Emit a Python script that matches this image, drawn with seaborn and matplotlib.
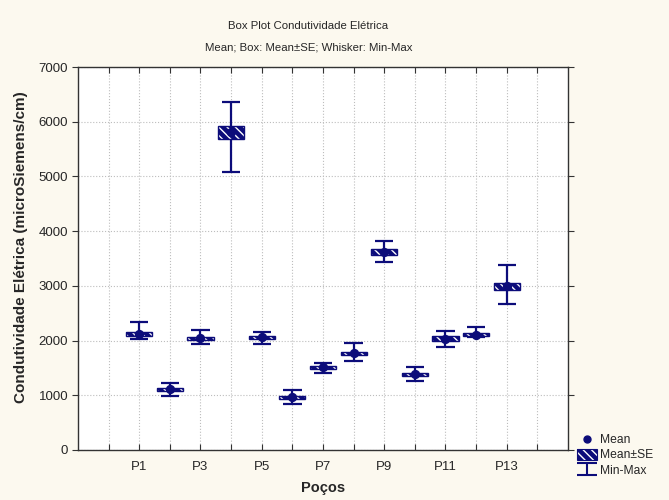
import numpy as np
import pandas as pd
import matplotlib
matplotlib.use("Agg")
import matplotlib.pyplot as plt
from matplotlib.patches import Rectangle
from matplotlib.lines import Line2D
from matplotlib.path import Path
from matplotlib.legend_handler import HandlerPatch
import seaborn as sns

# ---- data ----
wells = ["P1", "P2", "P3", "P4", "P5", "P6", "P7", "P8", "P9", "P10", "P11", "P12", "P13"]
means = [2120, 1110, 2040, 5810, 2060, 965, 1510, 1765, 3620, 1380, 2030, 2110, 2990]
se = [35, 30, 30, 120, 30, 30, 30, 30, 55, 30, 45, 35, 70]
mins = [2030, 990, 1930, 5090, 1930, 835, 1410, 1620, 3430, 1255, 1880, 2060, 2670]
maxs = [2340, 1230, 2200, 6360, 2150, 1100, 1590, 1960, 3820, 1515, 2180, 2250, 3380]

title = "Box Plot Condutividade Elétrica"
subtitle = "Mean; Box: Mean±SE; Whisker: Min-Max"
ylabel = "Condutividade Elétrica (microSiemens/cm)"
xlabel = "Poços"
yticks = [0, 1000, 2000, 3000, 4000, 5000, 6000, 7000]

NAVY = "#0c0c7a"
BG = "#fcf9ef"

sns.set_style("white")
plt.rcParams["font.family"] = ["Liberation Sans", "DejaVu Sans"]
plt.rcParams["hatch.linewidth"] = 1.0
HATCH = "\\\\\\\\"

df = pd.DataFrame({"well": wells, "mean": means, "se": se, "min": mins, "max": maxs})
df["pos"] = np.arange(len(df)) + 2  # category slots (axis shows empty slot before P1)

fig = plt.figure(figsize=(6.69, 5.0), dpi=100, facecolor=BG)
ax = fig.add_axes([0.1166, 0.1, 0.7324, 0.766])
ax.set_facecolor("white")

# whiskers (min-max)
box_w = 0.85
cap_w = 0.6
ax.vlines(df["pos"], df["min"], df["max"], color=NAVY, lw=1.6, zorder=3)
ax.hlines(df["min"], df["pos"] - cap_w / 2, df["pos"] + cap_w / 2, color=NAVY, lw=1.6, zorder=3)
ax.hlines(df["max"], df["pos"] - cap_w / 2, df["pos"] + cap_w / 2, color=NAVY, lw=1.6, zorder=3)

# boxes (mean +- SE) hatched
for p, m, s in zip(df["pos"], df["mean"], df["se"]):
    ax.add_patch(Rectangle((p - box_w / 2, m - s), box_w, 2 * s, facecolor=NAVY,
                           edgecolor="none", zorder=4))
    ax.add_patch(Rectangle((p - box_w / 2, m - s), box_w, 2 * s, facecolor="none",
                           edgecolor="white", hatch=HATCH, lw=0, zorder=5))
    ax.add_patch(Rectangle((p - box_w / 2, m - s), box_w, 2 * s, facecolor="none",
                           edgecolor=NAVY, lw=1.0, zorder=6))

# means
sns.scatterplot(data=df, x="pos", y="mean", ax=ax, color=NAVY, s=45,
                edgecolor=NAVY, linewidth=0, zorder=7, legend=False)

ax.set_xlim(0, 16)
ax.set_ylim(0, 7000)
ax.set_xticks(np.arange(1, 16))
labels = [""] + [w if i % 2 == 0 else "" for i, w in enumerate(wells)] + [""]
ax.set_xticklabels(labels, fontsize=9.5)
ax.set_yticks(yticks)
ax.set_yticklabels([str(v) for v in yticks], fontsize=9.5)
ax.grid(True, color="#bdbdbd", linestyle=":", linewidth=0.8)
ax.set_axisbelow(True)
for sp in ax.spines.values():
    sp.set_visible(True)
    sp.set_color("#333333")
    sp.set_linewidth(1.0)
ax.tick_params(axis="x", which="both", direction="in", top=True, bottom=True, length=4,
               color="#333333", pad=8)
ax.tick_params(axis="y", which="both", direction="out", left=True, length=4,
               color="#333333", pad=3)
ax.tick_params(axis="y", right=True)

ax.set_xlabel(xlabel, fontsize=10.5, fontweight="bold", labelpad=6)
ax.set_ylabel(ylabel, fontsize=11, fontweight="bold")
ax.yaxis.set_label_coords(-0.102, 0.529)

fig.text(0.461, 0.948, title, ha="center", va="center", fontsize=8.2)
fig.text(0.461, 0.904, subtitle, ha="center", va="center", fontsize=8.2)

# legend
ibeam = Path([(-1, 0.6), (1, 0.6), (0, 0.6), (0, -0.6), (-1, -0.6), (1, -0.6)],
             [Path.MOVETO, Path.LINETO, Path.MOVETO, Path.LINETO, Path.MOVETO, Path.LINETO])


class HatchHandler(HandlerPatch):
    def create_artists(self, legend, orig_handle, xdescent, ydescent, width, height,
                       fontsize, trans):
        w = width
        h = height * 1.25
        x0 = -xdescent
        y0 = -ydescent - (h - height) / 2
        r1 = Rectangle((x0, y0), w, h, facecolor=NAVY, edgecolor="none", transform=trans)
        r2 = Rectangle((x0, y0), w, h, facecolor="none", edgecolor="white",
                       hatch=HATCH, lw=0, transform=trans)
        r3 = Rectangle((x0, y0), w, h, facecolor="none", edgecolor=NAVY,
                       lw=0.8, transform=trans)
        return [r1, r2, r3]


h_mean = Line2D([], [], marker="o", ls="none", color=NAVY, markersize=5)
h_se = Rectangle((0, 0), 1, 1)
h_mm = Line2D([], [], marker=ibeam, ls="none", color=NAVY, markersize=14, mew=1.5)
fig.legend([h_mean, h_se, h_mm], ["Mean", "Mean±SE", "Min-Max"],
           handler_map={h_se: HatchHandler()}, loc="lower left",
           bbox_to_anchor=(0.862, 0.047), frameon=False, fontsize=8.7,
           handlelength=1.65, handletextpad=0.3, labelspacing=0.25, borderpad=0,
           borderaxespad=0)

fig.savefig("out.png", dpi=100, facecolor=BG)
